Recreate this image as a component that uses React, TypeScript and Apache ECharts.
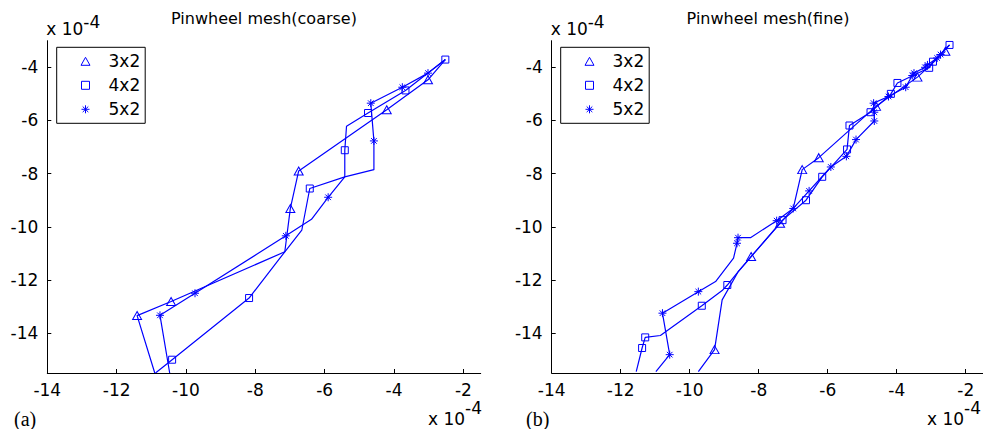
import React, { useEffect, useRef } from "react";
import * as echarts from "echarts";

const BLUE = "#0000ff";
const FONT = "DejaVu Sans";

// [x, y, marker(1) / plain vertex(0)]  (units of 1e-4)
const coarse3x2 = [
  [-10.9, -15.5, 0], [-11.41, -13.34, 1], [-10.43, -12.81, 1], [-7.15, -10.94, 0],
  [-6.99, -9.31, 1], [-6.75, -7.9, 1], [-4.21, -5.6, 1], [-3.02, -4.47, 1], [-2.52, -3.71, 0],
];
const coarse4x2 = [
  [-10.88, -15.5, 0], [-10.4, -15.0, 1], [-8.18, -12.68, 1], [-7.15, -10.94, 0],
  [-6.66, -10.13, 0], [-6.43, -8.56, 1], [-5.42, -8.12, 0], [-5.42, -7.12, 1],
  [-5.37, -6.22, 0], [-4.75, -5.72, 1], [-3.67, -4.87, 1], [-2.52, -3.71, 1],
];
const coarse5x2 = [
  [-10.47, -15.5, 0], [-10.75, -13.33, 1], [-9.74, -12.5, 1], [-7.12, -10.34, 1],
  [-6.38, -9.72, 0], [-5.9, -8.89, 1], [-5.42, -8.12, 0], [-4.58, -7.85, 0],
  [-4.58, -6.77, 1], [-4.67, -5.35, 1], [-3.76, -4.75, 1], [-3.02, -4.22, 1], [-2.52, -3.71, 0],
];
const fine3x2 = [
  [-9.75, -15.45, 0], [-9.28, -14.62, 1], [-9.06, -12.75, 0], [-8.6, -11.7, 0],
  [-8.22, -11.12, 1], [-7.38, -9.87, 1], [-7.0, -9.31, 0], [-6.74, -7.85, 1],
  [-6.26, -7.4, 1], [-4.6, -5.47, 1], [-3.4, -4.37, 1], [-2.59, -3.4, 1],
];
const fine4x2 = [
  [-11.55, -15.45, 0], [-11.38, -14.56, 1], [-11.29, -14.16, 1], [-10.85, -14.09, 0],
  [-9.65, -12.97, 1], [-9.06, -12.4, 0], [-8.91, -12.19, 1], [-8.6, -11.7, 0],
  [-8.22, -11.12, 0], [-7.31, -9.75, 1], [-6.63, -9.0, 1], [-6.16, -8.12, 1],
  [-5.44, -7.09, 1], [-5.37, -6.19, 1], [-4.76, -5.69, 1], [-4.17, -5.0, 1],
  [-3.98, -4.59, 1], [-3.06, -4.02, 1], [-2.95, -3.79, 1], [-2.47, -3.16, 1],
];
const fine5x2 = [
  [-10.98, -15.45, 0], [-10.58, -14.81, 1], [-10.79, -13.25, 1], [-9.75, -12.44, 1],
  [-9.25, -12.06, 0], [-8.73, -11.18, 0], [-8.63, -10.62, 1], [-8.6, -10.41, 1],
  [-8.24, -10.41, 0], [-7.48, -9.77, 1], [-7.0, -9.31, 1], [-6.54, -8.65, 1],
  [-5.91, -7.75, 1], [-5.46, -7.35, 1], [-5.18, -6.72, 1], [-4.65, -6.02, 1],
  [-4.65, -5.69, 1], [-4.67, -5.35, 1], [-4.24, -5.1, 1], [-3.74, -4.75, 1],
  [-3.55, -4.31, 1], [-3.5, -4.22, 1], [-3.18, -4.0, 1], [-3.11, -3.91, 1],
  [-2.83, -3.65, 1], [-2.73, -3.52, 1], [-2.47, -3.16, 0],
];

const seriesNames = ["3x2", "4x2", "5x2"];
const panelTitles = ["Pinwheel mesh(coarse)", "Pinwheel mesh(fine)"];
const panelTags = ["(a)", "(b)"];
const xRange = [-14, -1.5];
const yRange = [-15.5, -3];

const ASTERISK = "path://M5,0L5,10M0,5L10,5M1.5,1.5L8.5,8.5M1.5,8.5L8.5,1.5";
const symbols = ["triangle", "rect", ASTERISK];
const legendIcons = ["path://M4.5,0L9,8L0,8Z", "path://M0,0L7,0L7,7L0,7Z", ASTERISK];
const symbolSizes: any[] = [[9, 8], 7, 8];

const grids = [
  { left: 47.3, top: 40.7, width: 433.4, height: 332.3 },
  { left: 551.7, top: 40.7, width: 434, height: 332.3 },
];

function makeSeries(name: string, pts: number[][], g: number, si: number) {
  return {
    name,
    type: "line",
    xAxisIndex: g,
    yAxisIndex: g,
    data: pts.map((p) =>
      p[2] ? { value: [p[0], p[1]] } : { value: [p[0], p[1]], symbol: "none" }
    ),
    symbol: symbols[si],
    symbolSize: symbolSizes[si],
    showSymbol: true,
    clip: true,
    lineStyle: { color: BLUE, width: 1.2 },
    itemStyle: { color: "rgba(0,0,0,0)", borderColor: BLUE, borderWidth: 1 },
    emphasis: { disabled: true },
    silent: true,
  };
}

function axisCommon() {
  return {
    axisLine: { show: true, onZero: false, lineStyle: { color: "#000", width: 1 } },
    axisTick: { show: true, inside: true, length: 4, lineStyle: { color: "#000" } },
    splitLine: { show: false },
    minInterval: 2,
    maxInterval: 2,
  };
}

const fmt = (v: number) => (Number.isInteger(v) && v % 2 === 0 ? String(v) : "");

export default function App() {
  const ref = useRef<HTMLDivElement>(null);
  useEffect(() => {
    if (!ref.current) return;
    const chart = echarts.init(ref.current, null, { renderer: "svg" });
    const xAxes = grids.map((_, g) => ({
      ...axisCommon(),
      gridIndex: g,
      type: "value",
      min: xRange[0],
      max: xRange[1],
      axisLabel: {
        color: "#000", fontSize: 17, fontFamily: FONT, margin: 8,
        showMaxLabel: false, formatter: fmt,
      },
    }));
    const yAxes = grids.map((_, g) => ({
      ...axisCommon(),
      gridIndex: g,
      type: "value",
      min: yRange[0],
      max: yRange[1],
      axisLabel: {
        color: "#000", fontSize: 17, fontFamily: FONT, margin: 9,
        showMaxLabel: false, showMinLabel: false, formatter: fmt,
      },
    }));
    const legendFor = (left: number) => ({
      left,
      top: 47.3,
      orient: "vertical",
      selectedMode: false,
      backgroundColor: "#fff",
      borderColor: "#000",
      borderWidth: 1,
      borderRadius: 0,
      padding: [5, 5, 5, 23.8],
      itemWidth: 36,
      itemHeight: 8,
      itemGap: 6,
      symbolKeepAspect: true,
      itemStyle: { color: "rgba(0,0,0,0)", borderColor: BLUE, borderWidth: 1 },
      textStyle: { color: "#000", fontSize: 17, fontFamily: FONT, lineHeight: 18 },
      data: seriesNames.map((n, i) => ({ name: n, icon: legendIcons[i] })),
    });
    const txt = (text: string, x: number, y: number, opts: any = {}) => ({
      type: "text",
      x,
      y,
      silent: true,
      style: {
        text,
        fill: "#000",
        fontSize: opts.fontSize || 17,
        fontFamily: opts.fontFamily || FONT,
        align: opts.align || "left",
        textAlign: opts.align || "left",
        verticalAlign: "middle",
        textVerticalAlign: "middle",
      },
    });
    const graphics: any[] = [];
    grids.forEach((gr, g) => {
      const cx = gr.left + gr.width / 2;
      graphics.push(txt(panelTitles[g], g === 0 ? cx : 768, 18, { align: "center", fontSize: 16 }));
      graphics.push(txt("x 10", gr.left - 1, 29));
      graphics.push(txt("-4", gr.left + 36, 22));
      const bx = g === 0 ? 428 : 927;
      graphics.push(txt("x 10", bx, 419));
      graphics.push(txt("-4", bx + 37, 407.5));
      graphics.push(
        txt(panelTags[g], g === 0 ? 14 : 526, 419, { fontFamily: "Liberation Serif", fontSize: 20 })
      );
    });
    const data = [
      [coarse3x2, coarse4x2, coarse5x2],
      [fine3x2, fine4x2, fine5x2],
    ];
    const series: any[] = [];
    data.forEach((panel, g) =>
      panel.forEach((pts, si) => series.push(makeSeries(seriesNames[si], pts, g, si)))
    );
    chart.setOption({
      animation: false,
      backgroundColor: "#fff",
      grid: grids,
      xAxis: xAxes,
      yAxis: yAxes,
      legend: [legendFor(56.7), legendFor(560.7)],
      series,
      graphic: graphics,
    });
    return () => chart.dispose();
  }, []);
  return (
    <div
      ref={ref}
      style={{ position: "absolute", left: 0, top: 0, width: 983, height: 429 }}
    />
  );
}
